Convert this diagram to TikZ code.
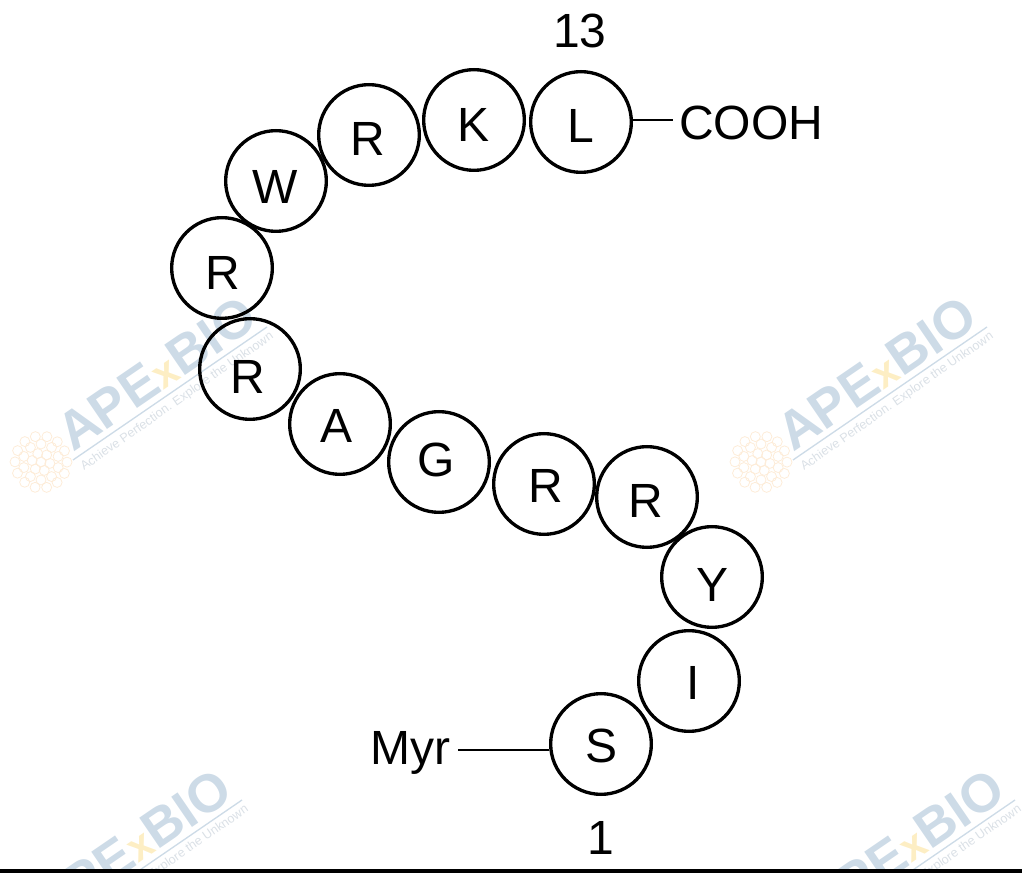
\documentclass[tikz,border=0pt]{standalone}
\usepackage{fontspec}
\setmainfont{Liberation Sans}
\definecolor{wmblue}{RGB}{205,219,231}
\definecolor{wmyellow}{RGB}{253,238,196}
\definecolor{wmgrey}{RGB}{218,224,230}
\definecolor{wmflower}{RGB}{253,236,216}
\tikzset{
  residue/.style={circle,draw=black,line width=2.5pt,minimum size=75.5pt,inner sep=0pt,font=\fontsize{36}{40}\selectfont},
  label/.style={inner sep=0pt,font=\fontsize{36}{40}\selectfont},
  link/.style={draw=black,line width=2pt},
  wmtext/.style={inner sep=0pt,anchor=base west,rotate=34.4,font=\fontsize{40}{46}\selectfont\bfseries,text=wmblue},
  wmtag/.style={inner sep=0pt,anchor=base west,rotate=35,font=\fontsize{9.4}{11}\selectfont,text=wmgrey},
  wmrule/.style={draw=wmblue,line width=1pt},
  petal/.style={draw=wmflower,line width=0.6pt}
}
% letter offset (px) from the circle centre, measured to the letter centre
\newcommand{\res}[3]{\raisebox{\dimexpr-#2pt*3/4-13pt\relax}[0pt][0pt]{\makebox[0pt]{\hspace*{\dimexpr#1pt*3/2\relax}#3}}}
\newcommand{\apexmark}[3]{%
  \begin{scope}[shift={(#2,#3)}]
    \foreach \r/\n/\s in {0/1/5,9/6/5,18/10/5,26/14/5}{
      \foreach \k in {1,...,\n}{
        \draw[petal] ({41+\r*cos(\k*360/\n+\r)},{462+\r*sin(\k*360/\n+\r)}) circle (\s);
      }
    }
    \draw[wmrule] (73,460) -- (267,327);
    \node[wmtext] (wm#1) at (73,453) {APE{\fontsize{31}{40}\selectfont\color{wmyellow}x}BIO};
    \node[wmtag] (tag#1) at (84,471) {Achieve Perfection. Explore the Unknown};
  \end{scope}
}
\begin{document}
\begin{tikzpicture}[x=0.75pt,y=-0.75pt]
\useasboundingbox (0,0) rectangle (1022,873);
\begin{scope}
  \clip (0,0) rectangle (1022,869);
  \apexmark{a}{0}{0}
  \apexmark{b}{720}{0}
  \apexmark{c}{-25}{473}
  \apexmark{d}{748}{473}
\end{scope}
\fill[black] (0,869) rectangle (1022,873);

\node[residue] (r13) at (581,122) {\res{0}{3}{L}};
\node[residue] (r12) at (474,120) {\res{0}{4}{K}};
\node[residue] (r11) at (369,135) {\res{-1}{3}{R}};
\node[residue] (r10) at (276,181) {\res{-1}{5}{W}};
\node[residue] (r9) at (222,268) {\res{1}{4}{R}};
\node[residue] (r8) at (250,369) {\res{-2}{7}{R}};
\node[residue] (r7) at (340,424) {\res{-3}{1}{A}};
\node[residue] (r6) at (439,462) {\res{-3}{-3}{G}};
\node[residue] (r5) at (544,484) {\res{2}{1}{R}};
\node[residue] (r4) at (647,497) {\res{-1}{3}{R}};
\node[residue] (r3) at (712,577) {\res{1}{7}{Y}};
\node[residue] (r2) at (689,681) {\res{4}{1}{I}};
\node[residue] (r1) at (601,744) {\res{1}{1}{S}};

\node[label] (n13) at (580,31) {13};
\node[label] (n1) at (601,838) {1};
\node[label,anchor=west] (cooh) at (679,123) {COOH};
\node[label,anchor=east] (myr) at (451,753) {Myr};

\coordinate (coohend) at (673,120);
\coordinate (myrend) at (458,750);
\draw[link] (r13.east |- coohend) -- (coohend);
\draw[link] (myrend) -- (r1.west |- myrend);
\end{tikzpicture}
\end{document}
